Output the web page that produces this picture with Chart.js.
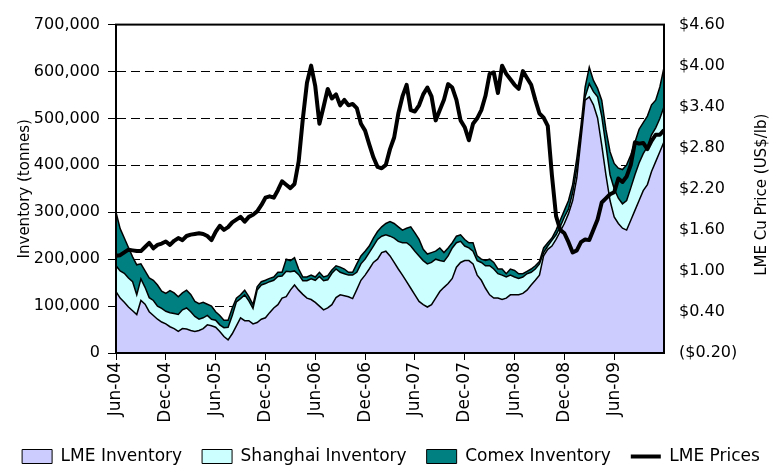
<!DOCTYPE html>
<html>
<head>
<meta charset="utf-8">
<script src="https://cdn.jsdelivr.net/npm/chart.js"></script>
<style>
  html, body { margin: 0; padding: 0; background: #fff; }
  #chart { display: block; }
</style>
</head>
<body>
<canvas id="chart" width="782" height="469"></canvas>
<script>
// x = months after Jun-04, one reading every half month (Jun-04 .. Dec-09)
const months = Array.from({ length: 133 }, (_, i) => i / 2);

// x axis ticks
const xTickPos = [0, 6, 12, 18, 24, 30, 36, 42, 48, 54, 60];
const xTickLabels = ['Jun-04', 'Dec-04', 'Jun-05', 'Dec-05', 'Jun-06', 'Dec-06',
                     'Jun-07', 'Dec-07', 'Jun-08', 'Dec-08', 'Jun-09'];

// y axis ticks
const invTicks = [0, 100000, 200000, 300000, 400000, 500000, 600000, 700000];
const priceTicks = [-0.2, 0.4, 1.0, 1.6, 2.2, 2.8, 3.4, 4.0, 4.6];

// inventories, thousand tonnes
const lmeInv = [
  131, 117, 108, 98, 90, 82, 112, 104, 88, 80, 72, 66, 62, 56, 52, 46, 52, 51, 48, 46,
  48, 52, 60, 58, 55, 46, 35, 28, 41, 58, 75, 69, 69, 62, 65, 72, 75, 86, 96, 103,
  117, 120, 134, 145, 134, 125, 117, 114, 108, 100, 92, 96, 103, 118, 124, 122, 120, 116, 135, 155,
  166, 179, 193, 200, 214, 217, 207, 193, 179, 166, 152, 138, 124, 110, 103, 98, 103, 117, 131, 140,
  148, 159, 183, 193, 197, 197, 190, 166, 155, 138, 124, 117, 117, 114, 117, 124, 124, 124, 127, 134,
  145, 155, 166, 207, 221, 228, 242, 259, 276, 297, 325, 373, 456, 539, 546, 529, 501, 443, 380, 325,
  290, 276, 266, 262, 283, 304, 325, 346, 359, 387, 408, 429, 450
];
const shanghaiInv = [
  55, 58, 62, 62, 62, 42, 46, 36, 30, 32, 28, 29, 27, 30, 32, 36, 40, 45, 40, 32,
  24, 23, 20, 14, 15, 14, 19, 27, 39, 51, 41, 55, 42, 33, 69, 73, 73, 66, 59, 60,
  47, 54, 39, 30, 33, 29, 37, 44, 47, 63, 62, 60, 67, 61, 48, 47, 46, 50, 37, 35,
  34, 35, 35, 42, 35, 35, 42, 52, 59, 69, 83, 90, 93, 97, 94, 92, 90, 83, 66, 55,
  59, 65, 52, 45, 31, 27, 27, 31, 38, 48, 62, 62, 52, 52, 45, 42, 38, 35, 35, 35,
  27, 24, 24, 7, 7, 12, 10, 10, 14, 10, 17, 21, 14, 7, 28, 28, 45, 62, 63, 55,
  60, 54, 52, 63, 69, 76, 80, 79, 81, 78, 72, 71, 75
];
const comexInv = [
  114, 90, 75, 65, 53, 64, 32, 35, 42, 43, 45, 37, 38, 47, 44, 38, 36, 38, 37, 32,
  33, 33, 24, 28, 18, 20, 16, 15, 16, 8, 8, 10, 9, 8, 7, 7, 7, 7, 7, 9,
  8, 26, 24, 28, 12, 8, 8, 8, 7, 9, 8, 9, 7, 7, 11, 10, 6, 6, 18, 17,
  17, 14, 17, 17, 20, 24, 31, 31, 31, 27, 31, 41, 39, 35, 24, 21, 21, 17, 27, 19,
  17, 11, 14, 14, 14, 11, 18, 10, 7, 11, 14, 14, 10, 13, 7, 13, 14, 10, 7, 5,
  7, 7, 5, 10, 7, 5, 10, 14, 14, 18, 17, 21, 14, 21, 35, 24, 18, 34, 34, 49,
  54, 64, 73, 76, 70, 69, 72, 66, 65, 64, 59, 67, 84
];

// LME copper price, US$/lb
const lmePrice = [
  1.22, 1.23, 1.27, 1.31, 1.30, 1.29, 1.29, 1.35, 1.41, 1.33, 1.38, 1.40, 1.43, 1.38, 1.44, 1.48, 1.45, 1.51, 1.53, 1.54,
  1.55, 1.54, 1.51, 1.45, 1.57, 1.66, 1.60, 1.64, 1.71, 1.75, 1.79, 1.72, 1.79, 1.82, 1.87, 1.96, 2.07, 2.09, 2.07, 2.18,
  2.31, 2.26, 2.21, 2.27, 2.60, 3.22, 3.75, 4.00, 3.70, 3.15, 3.40, 3.66, 3.52, 3.58, 3.42, 3.50, 3.42, 3.44, 3.38, 3.15,
  3.05, 2.85, 2.66, 2.52, 2.50, 2.55, 2.78, 2.95, 3.30, 3.55, 3.72, 3.35, 3.33, 3.42, 3.58, 3.68, 3.55, 3.20, 3.35, 3.50,
  3.73, 3.68, 3.50, 3.20, 3.10, 2.91, 3.15, 3.23, 3.35, 3.56, 3.88, 3.90, 3.60, 4.00, 3.88, 3.80, 3.72, 3.66, 3.92, 3.82,
  3.72, 3.50, 3.30, 3.24, 3.12, 2.40, 1.80, 1.60, 1.55, 1.42, 1.27, 1.30, 1.42, 1.46, 1.45, 1.60, 1.75, 2.00, 2.06, 2.12,
  2.15, 2.35, 2.30, 2.38, 2.55, 2.88, 2.86, 2.87, 2.78, 2.90, 2.99, 2.99, 3.06
];

const toPoints = (vals, scale) => vals.map((v, i) => ({ x: months[i], y: v * scale }));

Chart.defaults.font.family = '"DejaVu Sans", sans-serif';
Chart.defaults.color = '#000';

// frame round the plot, and the right axis title (reads bottom to top like the left one)
const framePlugin = {
  id: 'frame',
  afterDraw(chart) {
    const { ctx, chartArea: a } = chart;
    ctx.save();
    ctx.strokeStyle = '#000';
    ctx.lineWidth = 2;
    ctx.strokeRect(a.left, a.top, a.right - a.left, a.bottom - a.top);
    ctx.translate(762, (a.top + a.bottom) / 2 + 6);
    ctx.rotate(-Math.PI / 2);
    ctx.font = '15px "DejaVu Sans"';
    ctx.fillStyle = '#000';
    ctx.textAlign = 'center';
    ctx.textBaseline = 'middle';
    ctx.fillText('LME Cu Price (US$/lb)', 0, 0);
    ctx.restore();
  }
};

new Chart(document.getElementById('chart'), {
  type: 'line',
  data: {
    datasets: [
      {
        label: 'LME Inventory',
        data: toPoints(lmeInv, 1000),
        backgroundColor: '#CCCCFF',
        borderColor: '#000',
        borderWidth: 1.5,
        fill: 'origin',
        yAxisID: 'y'
      },
      {
        label: 'Shanghai Inventory',
        data: toPoints(shanghaiInv, 1000),
        backgroundColor: '#CCFFFF',
        borderColor: '#000',
        borderWidth: 1.5,
        fill: '-1',
        yAxisID: 'y'
      },
      {
        label: 'Comex Inventory',
        data: toPoints(comexInv, 1000),
        backgroundColor: '#008080',
        borderColor: '#000',
        borderWidth: 1.5,
        fill: '-1',
        yAxisID: 'y'
      },
      {
        label: 'LME Prices',
        data: toPoints(lmePrice, 1),
        backgroundColor: '#000',
        borderColor: '#000',
        borderWidth: 4,
        borderJoinStyle: 'round',
        fill: false,
        yAxisID: 'y1',
        order: -1
      }
    ]
  },
  options: {
    responsive: false,
    animation: false,
    layout: { padding: { top: 17, left: 0, right: 0, bottom: -6 } },
    elements: { point: { radius: 0 }, line: { tension: 0 } },
    plugins: {
      tooltip: { enabled: false },
      legend: {
        position: 'bottom',
        labels: {
          usePointStyle: true,
          pointStyleWidth: 30,
          boxHeight: 14,
          padding: 20,
          color: '#000',
          font: { size: 17 },
          generateLabels: (chart) => chart.data.datasets.map((ds, i) => ({
            text: ds.label,
            datasetIndex: i,
            fillStyle: ds.backgroundColor,
            strokeStyle: '#000',
            lineWidth: ds.yAxisID === 'y1' ? 4 : 1,
            pointStyle: ds.yAxisID === 'y1' ? 'line' : 'rect',
            hidden: false
          }))
        }
      }
    },
    scales: {
      x: {
        type: 'linear',
        min: 0,
        max: 66,
        afterBuildTicks: (s) => { s.ticks = xTickPos.map(v => ({ value: v })); },
        afterFit: (s) => { s.height = 75; },
        ticks: {
          autoSkip: false,
          minRotation: 90,
          maxRotation: 90,
          padding: 2,
          font: { size: 17 },
          callback: (v, i) => xTickLabels[i]
        },
        grid: { drawOnChartArea: false, drawTicks: true, tickLength: 7, tickColor: '#000', tickWidth: 1 },
        border: { display: true, color: '#000', width: 2 }
      },
      y: {
        position: 'left',
        stacked: true,
        min: 0,
        max: 700000,
        afterBuildTicks: (s) => { s.ticks = invTicks.map(v => ({ value: v })); },
        afterFit: (s) => { s.width = 116; },
        title: {
          display: true,
          text: 'Inventory (tonnes)',
          font: { size: 15 },
          padding: { top: 16, bottom: 0 }
        },
        ticks: {
          padding: 8,
          font: { size: 16 },
          callback: (v) => v.toLocaleString('en-US')
        },
        grid: {
          color: (c) => (c.tick && (c.tick.value === 0 || c.tick.value === 700000)) ? 'rgba(0,0,0,0)' : '#000',
          lineWidth: 1,
          tickLength: 8,
          tickColor: '#000'
        },
        border: { display: true, color: '#000', width: 2, dash: [9, 5] }
      },
      y1: {
        position: 'right',
        min: -0.2,
        max: 4.6,
        afterBuildTicks: (s) => { s.ticks = priceTicks.map(v => ({ value: v })); },
        afterFit: (s) => { s.width = 118; },
        ticks: {
          padding: 15,
          font: { size: 16 },
          callback: (v) => v < 0 ? '($' + (-v).toFixed(2) + ')' : '$' + v.toFixed(2)
        },
        grid: { display: false, drawTicks: false, drawOnChartArea: false },
        border: { display: false }
      }
    }
  },
  plugins: [framePlugin]
});
</script>
</body>
</html>
